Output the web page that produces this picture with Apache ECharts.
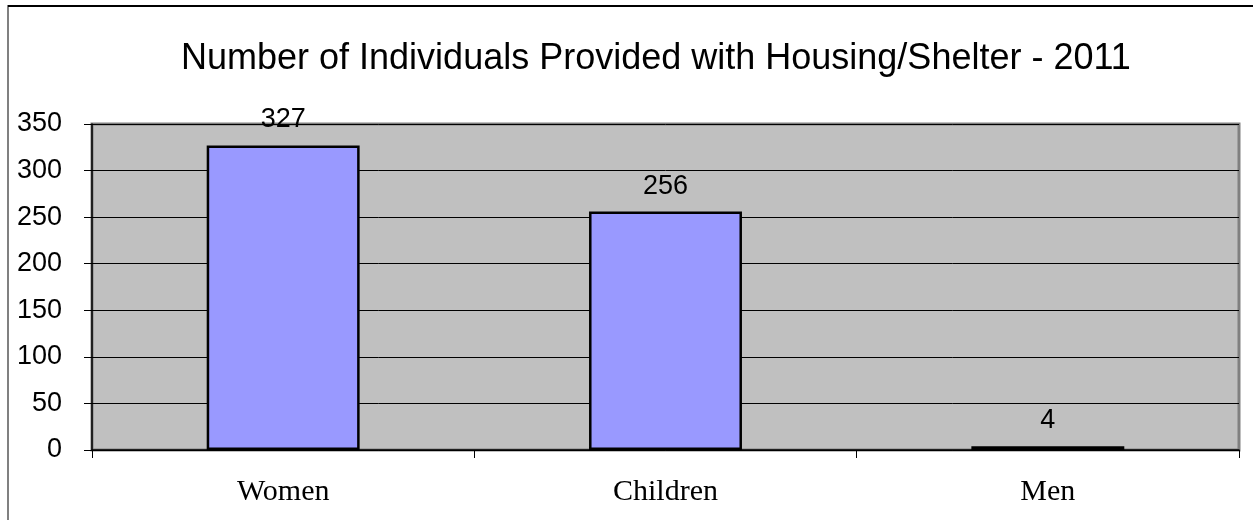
<!DOCTYPE html>
<html>
<head>
<meta charset="utf-8">
<script src="https://cdn.jsdelivr.net/npm/echarts@6/dist/echarts.min.js"></script>
<style>html,body{margin:0;padding:0;background:#fff}#c{width:1253px;height:520px}</style>
</head>
<body>
<div id="c"></div>
<script>
const titleText = 'Number of Individuals Provided with Housing/Shelter - 2011';
const categories = ['Women', 'Children', 'Men'];
const values = [327, 256, 4];
const yTicks = [0, 50, 100, 150, 200, 250, 300, 350];

const chart = echarts.init(document.getElementById('c'));
chart.setOption({
  animation: false,
  backgroundColor: '#ffffff',
  title: {
    text: titleText,
    left: 176,
    top: 36,
    textStyle: {
      fontFamily: '"Liberation Sans", Arial, sans-serif',
      fontSize: 36,
      fontWeight: 'normal',
      color: '#000'
    }
  },
  graphic: [
    { type: 'rect', shape: { x: 8, y: 6, width: 1260, height: 530 }, style: { fill: 'none', stroke: '#808080', lineWidth: 2 }, z: -1 },
    { type: 'line', shape: { x1: 8, y1: 6, x2: 1253, y2: 6 }, style: { stroke: '#000', lineWidth: 2 } }
  ],
  grid: {
    left: 92, right: 14, top: 124, bottom: 70,
    show: true,
    backgroundColor: '#C0C0C0',
    borderColor: '#808080',
    borderWidth: 3
  },
  xAxis: {
    type: 'category',
    data: categories,
    axisLine: { show: true, lineStyle: { color: '#000', width: 1.5 } },
    axisTick: { show: true, length: 8, lineStyle: { color: '#000' } },
    axisLabel: {
      margin: 27,
      fontFamily: '"Liberation Serif", "Times New Roman", serif',
      fontSize: 30,
      color: '#000'
    }
  },
  yAxis: {
    type: 'value',
    min: 0, max: 350, interval: 50,
    axisLine: { show: true, lineStyle: { color: '#000', width: 1.5 } },
    axisTick: { show: true, length: 8, lineStyle: { color: '#000' } },
    splitLine: { show: true, lineStyle: { color: '#000', width: 1 } },
    axisLabel: {
      margin: 30,
      fontFamily: '"Liberation Sans", Arial, sans-serif',
      fontSize: 27,
      color: '#000',
      formatter: v => yTicks.includes(v) ? String(v) : ''
    }
  },
  series: [{
    type: 'bar',
    data: values,
    barWidth: '40%',
    itemStyle: { color: '#9999FF', borderColor: '#000', borderWidth: 2.5 },
    label: {
      show: true,
      position: 'top',
      distance: 12,
      fontFamily: '"Liberation Sans", Arial, sans-serif',
      fontSize: 27,
      color: '#000'
    }
  }]
});
</script>
</body>
</html>
